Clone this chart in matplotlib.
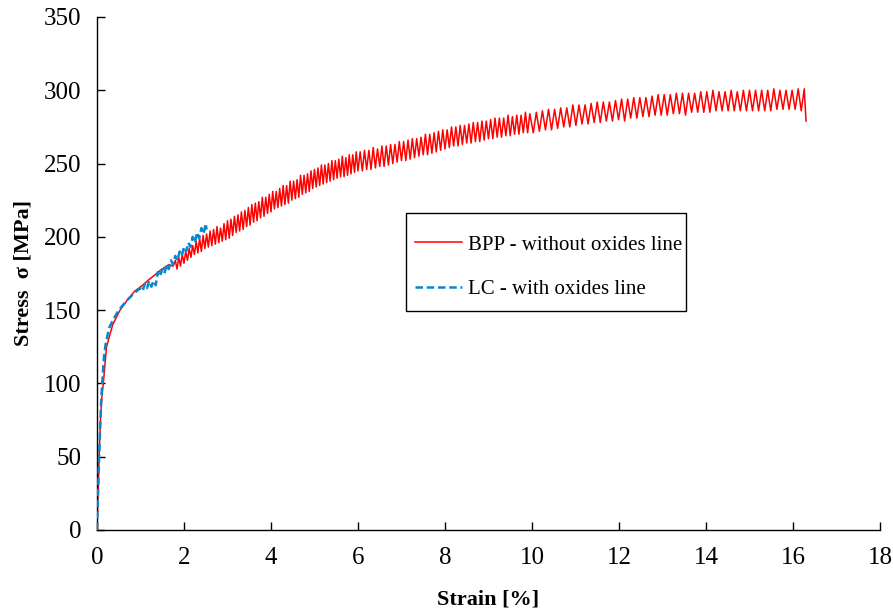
import matplotlib
matplotlib.use("Agg")
import matplotlib.pyplot as plt
from matplotlib.patches import Rectangle

plt.rcParams['font.family'] = ['Liberation Serif', 'DejaVu Serif']

# ---- BPP - without oxides line (red) ----
bpp_strain = [0.0, 0.03, 0.05, 0.08, 0.11, 0.145, 0.22, 0.36, 0.53, 0.70, 0.87, 1.05, 1.20, 1.33, 1.45, 1.55, 1.65, 1.75,
              1.80, 1.84, 1.88, 1.92, 1.96, 2.00, 2.04, 2.08, 2.12, 2.16, 2.20, 2.24, 2.28, 2.32, 2.36, 2.40, 2.44, 2.48,
              2.52, 2.56, 2.60, 2.64, 2.68, 2.72, 2.76, 2.80, 2.84, 2.88, 2.92, 2.96, 3.00, 3.04, 3.08, 3.12, 3.16, 3.20,
              3.24, 3.28, 3.32, 3.36, 3.40, 3.44, 3.48, 3.52, 3.56, 3.60, 3.64, 3.68, 3.72, 3.76, 3.80, 3.84, 3.88, 3.92,
              3.96, 4.00, 4.04, 4.08, 4.12, 4.16, 4.20, 4.24, 4.28, 4.32, 4.36, 4.40, 4.44, 4.48, 4.52, 4.56, 4.60, 4.64,
              4.68, 4.72, 4.76, 4.80, 4.84, 4.88, 4.92, 4.96, 5.00, 5.04, 5.08, 5.12, 5.16, 5.20, 5.24, 5.28, 5.32, 5.36,
              5.40, 5.44, 5.48, 5.52, 5.56, 5.60, 5.64, 5.68, 5.72, 5.76, 5.80, 5.84, 5.88, 5.92, 5.96, 6.00,
              6.05, 6.10, 6.15, 6.20, 6.25, 6.30, 6.35, 6.40, 6.45, 6.50, 6.55, 6.60, 6.65, 6.70, 6.75, 6.80, 6.85, 6.90,
              6.95, 7.00, 7.05, 7.10, 7.15, 7.20, 7.25, 7.30, 7.35, 7.40, 7.45, 7.50, 7.55, 7.60, 7.65, 7.70, 7.75, 7.80,
              7.85, 7.90, 7.95, 8.00, 8.05, 8.10, 8.15, 8.20, 8.25, 8.30, 8.35, 8.40, 8.45, 8.50, 8.55, 8.60, 8.65, 8.70,
              8.75, 8.80, 8.85, 8.90, 8.95, 9.00, 9.05, 9.10, 9.15, 9.20, 9.25, 9.30, 9.35, 9.40, 9.45, 9.50, 9.55, 9.60,
              9.65, 9.70, 9.75, 9.80, 9.85, 9.90, 9.95,
              10.03, 10.10, 10.17, 10.24, 10.31, 10.38, 10.45, 10.52, 10.59, 10.66, 10.73, 10.80, 10.87, 10.94, 11.01,
              11.08, 11.15, 11.22, 11.29, 11.36, 11.43, 11.50, 11.57, 11.64, 11.71, 11.78, 11.85, 11.92, 11.99, 12.06,
              12.13, 12.20, 12.27, 12.34, 12.41, 12.48, 12.55, 12.62, 12.69, 12.76, 12.83, 12.90, 12.97, 13.04, 13.11,
              13.18, 13.25, 13.32, 13.39, 13.46, 13.53, 13.60, 13.67, 13.74, 13.81, 13.88, 13.95, 14.02, 14.09, 14.16,
              14.23, 14.30, 14.37, 14.44, 14.51, 14.58, 14.65, 14.72, 14.79, 14.86, 14.93, 15.00, 15.07, 15.14, 15.21,
              15.28, 15.35, 15.42, 15.49, 15.56, 15.63, 15.70, 15.77, 15.84, 15.91, 15.98, 16.05, 16.12, 16.19, 16.26,
              16.30]
bpp_stress = [0, 30, 50, 75, 90, 100, 125, 140, 150, 157, 163, 167, 171, 174, 177, 179, 181, 180,
              184, 178, 186, 180, 188, 182, 190, 184, 192, 186, 194, 188, 197, 189, 199, 190, 201, 192,
              202, 193, 204, 194, 205, 195, 207, 196, 206, 197, 209, 198, 211, 199, 212, 201, 214, 203,
              215, 204, 217, 205, 218, 207, 220, 208, 222, 210, 223, 211, 224, 213, 227, 214, 227, 216,
              229, 217, 231, 219, 231, 220, 233, 221, 235, 222, 235, 223, 238, 225, 238, 226, 239, 227,
              242, 229, 242, 230, 243, 231, 245, 233, 246, 234, 247, 235, 249, 236, 249, 237, 250, 238,
              252, 239, 252, 240, 253, 241, 255, 241, 254, 242, 256, 243, 256, 244, 258, 245,
              258, 245, 259, 246, 259, 246, 261, 247, 260, 248, 262, 248, 262, 249, 263, 250, 263, 251,
              265, 252, 265, 252, 266, 253, 267, 254, 267, 255, 268, 256, 270, 256, 270, 257, 271, 258,
              272, 259, 273, 260, 273, 261, 275, 262, 275, 262, 276, 263, 276, 264, 277, 264, 278, 265,
              278, 265, 279, 266, 279, 267, 280, 267, 281, 268, 281, 268, 281, 269, 283, 269, 282, 270,
              283, 270, 283, 271, 285, 271, 284,
              271, 285, 272, 286, 273, 287, 273, 287, 274, 288, 275, 288, 275, 290, 276,
              290, 277, 290, 277, 291, 278, 292, 278, 292, 279, 292, 279, 293, 280, 294,
              279, 294, 281, 295, 281, 295, 282, 295, 282, 296, 283, 297, 283, 297, 283,
              297, 284, 298, 284, 298, 283, 298, 285, 298, 285, 299, 285, 299, 285, 300,
              286, 299, 286, 299, 286, 300, 286, 299, 286, 300, 286, 300, 286, 300, 286,
              300, 286, 300, 286, 301, 287, 300, 287, 300, 287, 300, 287, 301, 286, 301,
              279]

# ---- LC - with oxides line (blue) ----
lc_strain = [0.0, 0.02, 0.05, 0.08, 0.10, 0.12, 0.16, 0.20, 0.28, 0.40, 0.50, 0.70, 0.87, 1.00,
             1.05, 1.10, 1.15, 1.20, 1.25, 1.30, 1.35, 1.40, 1.45, 1.50, 1.55, 1.60, 1.65, 1.70,
             1.75, 1.80, 1.85, 1.90, 1.95, 2.00, 2.05, 2.10, 2.15, 2.20, 2.25, 2.30, 2.35, 2.40,
             2.45, 2.50, 2.52]
lc_stress = [0, 20, 50, 75, 90, 100, 118, 127, 138, 145, 150, 157, 162, 165,
             163, 168, 165, 170, 166, 170, 167, 176, 173, 178, 175, 181, 178, 184,
             181, 187, 184, 190, 187, 193, 190, 196, 193, 200, 196, 203, 199, 206,
             202, 209, 205]

x_ticks = [0, 2, 4, 6, 8, 10, 12, 14, 16, 18]
y_ticks = [0, 50, 100, 150, 200, 250, 300, 350]

fig = plt.figure(figsize=(8.93, 6.11), dpi=100)
ax = fig.add_axes([0.1086, 0.1326, 0.8768, 0.8396])

ax.plot(bpp_strain, bpp_stress, color='#ff0000', lw=1.1, label='BPP - without oxides line', zorder=2)
ax.plot(lc_strain, lc_stress, color='#0a86cc', lw=1.8, linestyle=(0, (3, 1.5)),
        label='LC - with oxides line', zorder=3)

ax.set_xlim(0, 18)
ax.set_ylim(0, 350)
ax.set_xticks(x_ticks)
ax.set_yticks(y_ticks)
ax.tick_params(direction='in', length=6, width=1, labelsize=18)
ax.tick_params(axis='x', pad=12)
ax.tick_params(axis='y', pad=11.5)
for s in ['top', 'right']:
    ax.spines[s].set_visible(False)
for s in ['left', 'bottom']:
    ax.spines[s].set_linewidth(1.0)

ax.set_xlabel('Strain [%]', fontsize=16, fontweight='bold', labelpad=15)
ax.set_ylabel('Stress  σ [MPa]', fontsize=16, fontweight='bold', labelpad=7)

# legend frame drawn as a separate box
ax.add_patch(Rectangle((0.395, 0.427), 0.357, 0.191, transform=ax.transAxes,
                       facecolor='white', edgecolor='black', lw=1.0, zorder=4))
leg = ax.legend(loc='upper left', bbox_to_anchor=(0.406, 0.575), fontsize=15,
                frameon=False, handlelength=2.26, labelspacing=1.2, borderpad=0.0,
                handletextpad=0.29, borderaxespad=0)
leg.set_zorder(5)

fig.savefig('out.png', dpi=100)
